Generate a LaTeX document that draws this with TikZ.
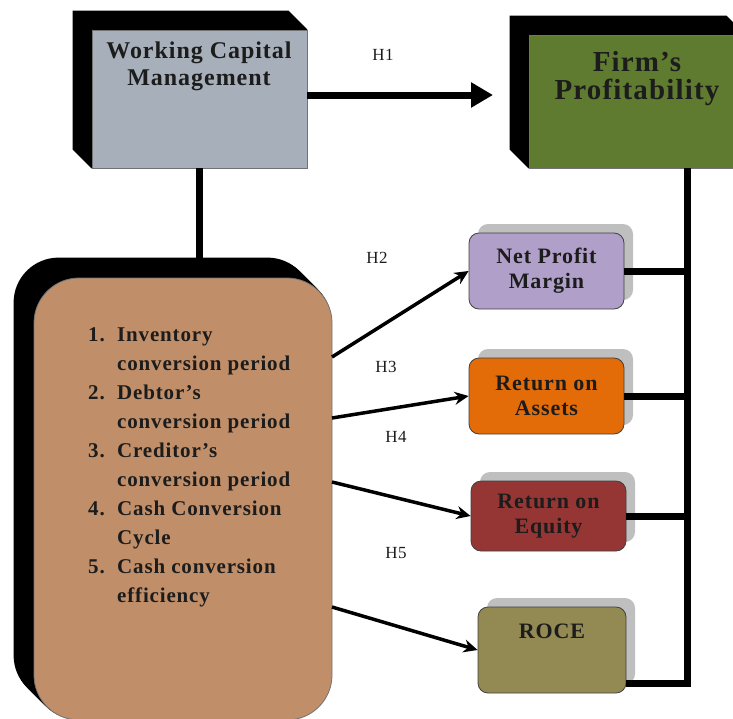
\documentclass[tikz,border=0pt]{standalone}
\usepackage{fontspec}
\setmainfont{Liberation Serif}[LetterSpace=4]
\usetikzlibrary{positioning, shadows, arrows.meta, backgrounds}

\definecolor{wcmgrey}{HTML}{A7AFBA}
\definecolor{firmgreen}{HTML}{5F7B2F}
\definecolor{listtan}{HTML}{C08F6A}
\definecolor{npmlilac}{HTML}{B09FC8}
\definecolor{roaorange}{HTML}{E36C09}
\definecolor{roered}{HTML}{953634}
\definecolor{roceolive}{HTML}{938953}
\definecolor{inkdark}{HTML}{1C1C1C}

\tikzset{
  face/.style={draw=black!55, line width=0.8pt, inner sep=0pt},
  listbox/.style={face, fill=listtan, rounded corners=45pt,
    minimum width=298pt, minimum height=442pt},
  ratio/.style={face, draw=black!75, rounded corners=10pt, minimum width=155pt,
    font=\fontsize{22}{25}\selectfont\bfseries, text=inkdark, align=center,
    copy shadow={shadow xshift=9pt, shadow yshift=9pt, fill=black!25, draw=none}},
  title/.style={font=\bfseries, text=inkdark, align=center, inner sep=0pt}
}

\begin{document}
\begin{tikzpicture}[x=1pt, y=-1pt,
    link/.style={line width=7pt},
    hyp/.style={line width=3.5pt, -{Stealth[length=14pt,width=13pt]}},
    lbl/.style={font=\fontsize{17}{17}\selectfont, text=inkdark}]
  \useasboundingbox (0,0) rectangle (733,718);

  % top boxes
  \node[face, fill=wcmgrey, minimum width=215pt, minimum height=138pt] (wcm) at (199.5,99) {};
  \node[face, fill=firmgreen, minimum width=216pt, minimum height=133pt] (firm) at (637,101.5) {};
  \node[title, font=\fontsize{24}{27}\selectfont\bfseries] (wcm text) at (199,66) {Working Capital\\Management};
  \node[title, font=\fontsize{29}{28}\selectfont\bfseries] (firm text) at (637,79) {Firm’s\\Profitability};

  % components of working capital
  \node[listbox] (ccc) at (183,499) {};
  \node[anchor=base west, inner sep=0pt, text=inkdark,
        font=\fontsize{21}{29.1}\selectfont\bfseries] (ccc list) at (88,341)
    {\begin{tabular}[t]{@{}p{29pt}@{}l@{}}
      1. & Inventory\\
         & conversion period\\
      2. & Debtor’s\\
         & conversion period\\
      3. & Creditor’s\\
         & conversion period\\
      4. & Cash Conversion\\
         & Cycle\\
      5. & Cash conversion\\
         & efficiency
    \end{tabular}};

  % profitability ratios
  \node[ratio, fill=npmlilac, minimum height=76pt] (npm) at (546.5,271) {Net Profit\\Margin};
  \node[ratio, fill=roaorange, minimum height=76pt] (roa) at (546.5,396) {Return on\\Assets};
  \node[ratio, fill=roered, minimum height=70pt] (roe) at (548.5,516) {Return on\\Equity};
  \node[ratio, fill=roceolive, minimum width=148pt, minimum height=86pt] (roce) at (552,650) {};
  \node[title, font=\fontsize{22}{25}\selectfont\bfseries, anchor=base] (roce text) at (552,638) {ROCE};

  % 3d sides
  \begin{scope}[on background layer]
    \fill ([shift={(-19,-19)}]wcm.north west) -- ([shift={(-19,-19)}]wcm.north east)
      -- (wcm.north east) -- (wcm.south west) -- ([shift={(-19,-19)}]wcm.south west) -- cycle;
    \fill ([shift={(-19,-19)}]firm.north west) -- ([shift={(-19,-19)}]firm.north east)
      -- (firm.north east) -- (firm.south west) -- ([shift={(-19,-19)}]firm.south west) -- cycle;
    \foreach \k in {1,...,20}
      \fill[rounded corners=45pt] ([shift={(-\k,-\k)}]ccc.north west) rectangle ([shift={(-\k,-\k)}]ccc.south east);
  \end{scope}

  % connectors
  \coordinate (ccc top) at (199.5,262);
  \coordinate (h1 end) at (493,95);
  \coordinate (bus top) at (687,168);
  \coordinate (bus bottom) at (687,683);
  \draw[link] (wcm.south) -- (ccc top);
  \draw[link, -{Triangle[length=22pt,width=24pt]}] (wcm.east |- h1 end) -- (h1 end);
  \draw[link] (bus top) -- (bus bottom) -- (roce.east |- bus bottom);
  \draw[link] (npm.east) -- (npm.east -| bus top);
  \draw[link] (roa.east) -- (roa.east -| bus top);
  \draw[link] (roe.east) -- (roe.east -| bus top);

  \coordinate (o2) at (332,357);
  \coordinate (o3) at (332,418);
  \coordinate (o4) at (332,482);
  \coordinate (o5) at (332,607);
  \draw[hyp] (o2) -- (npm.west);
  \draw[hyp] (o3) -- (roa.west);
  \draw[hyp] (o4) -- (roe.west);
  \draw[hyp] (o5) -- (roce.west);

  % hypotheses
  \node[lbl] (h1) at (383,55) {H1};
  \node[lbl] (h2) at (377,258) {H2};
  \node[lbl] (h3) at (386,367) {H3};
  \node[lbl] (h4) at (396,437) {H4};
  \node[lbl] (h5) at (396,553) {H5};
\end{tikzpicture}
\end{document}
